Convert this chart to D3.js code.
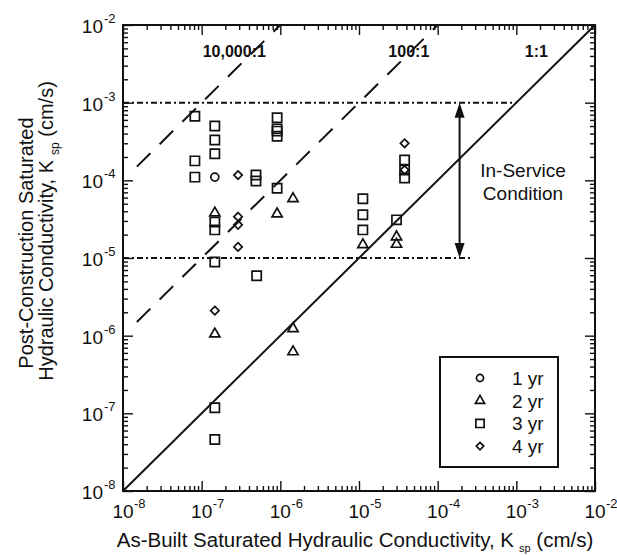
<!DOCTYPE html>
<html>
<head>
<meta charset="utf-8">
<script src="https://cdn.jsdelivr.net/npm/d3@7"></script>
<style>
body { margin:0; background:#fff; }
text { font-family:"Liberation Sans", Arial, Helvetica, sans-serif; fill:#111; }
</style>
</head>
<body>
<svg id="chart" width="617" height="556"></svg>
<script>
// Data (cm/s)
var yr1_x = [1.47e-7];
var yr1_y = [1.1e-4];

var yr2_x = [1.47e-7, 1.47e-7, 9.1e-7, 1.45e-6, 1.45e-6, 1.45e-6, 1.12e-5, 3.0e-5, 3.0e-5];
var yr2_y = [3.8e-5, 1.05e-6, 3.7e-5, 5.8e-5, 1.23e-6, 6.2e-7, 1.48e-5, 1.87e-5, 1.5e-5];

var yr3_x = [8.2e-8, 8.2e-8, 8.2e-8, 1.47e-7, 1.47e-7, 1.47e-7, 1.47e-7, 1.47e-7, 1.47e-7, 1.47e-7, 1.47e-7,
             4.9e-7, 4.9e-7, 5.0e-7, 9.1e-7, 9.1e-7, 9.1e-7, 9.1e-7, 9.1e-7,
             1.12e-5, 1.12e-5, 1.12e-5, 3.0e-5, 3.8e-5, 3.8e-5, 3.8e-5];
var yr3_y = [6.7e-4, 1.78e-4, 1.1e-4, 5.0e-4, 3.3e-4, 2.2e-4, 2.9e-5, 2.3e-5, 8.9e-6, 1.18e-7, 4.6e-8,
             1.17e-4, 9.8e-5, 5.9e-6, 6.4e-4, 4.6e-4, 4.3e-4, 3.7e-4, 7.9e-5,
             5.8e-5, 3.6e-5, 2.3e-5, 3.1e-5, 1.83e-4, 1.36e-4, 1.07e-4];

var yr4_x = [2.9e-7, 2.9e-7, 2.9e-7, 2.9e-7, 1.47e-7, 3.8e-5, 3.8e-5];
var yr4_y = [1.17e-4, 3.4e-5, 2.67e-5, 1.39e-5, 2.1e-6, 3.0e-4, 1.36e-4];

var series_names = ["1 yr", "2 yr", "3 yr", "4 yr"];
var decades = [-8, -7, -6, -5, -4, -3, -2];

// reference lines  K_post = ratio * K_built
var ratios = [10000, 100, 1];
var ratio_labels = ["10,000:1", "100:1", "1:1"];
var ratio_start = [1.5e-8, 1.5e-8, 1e-8];

// in-service band
var band_y = [1e-3, 1e-5];
var band_end = [1e-3, 2.8e-4];
var arrow_x = 1.9e-4;

var svg = d3.select("#chart");

var margin = { left:123, right:595, top:25, bottom:491 };

var x = d3.scaleLog().domain([1e-8, 1e-2]).range([margin.left, margin.right]);
var y = d3.scaleLog().domain([1e-8, 1e-2]).range([margin.bottom, margin.top]);

// minor tick values 2..9 in every decade
var minor = [];
decades.slice(0, -1).forEach(function(d) {
  for (var k = 2; k <= 9; k++) minor.push(k * Math.pow(10, d));
});
var major = decades.map(function(d) { return Math.pow(10, d); });

// Axes: ticks pointing inward on all four sides
var drawAxis = function(axisFn, scale, tx, ty, vals, size) {
  var g = svg.append("g")
             .attr("transform", "translate(" + tx + "," + ty + ")")
             .call(axisFn(scale).tickValues(vals).tickSize(size).tickFormat(""));
  g.select(".domain").remove();
  g.selectAll("line").attr("stroke", "#111").attr("stroke-width", 1.4);
};
drawAxis(d3.axisBottom, x, 0, margin.bottom, major, -10);
drawAxis(d3.axisBottom, x, 0, margin.bottom, minor, -5);
drawAxis(d3.axisTop, x, 0, margin.top, major, -10);
drawAxis(d3.axisTop, x, 0, margin.top, minor, -5);
drawAxis(d3.axisLeft, y, margin.left, 0, major, -10);
drawAxis(d3.axisLeft, y, margin.left, 0, minor, -5);
drawAxis(d3.axisRight, y, margin.right, 0, major, -10);
drawAxis(d3.axisRight, y, margin.right, 0, minor, -5);

// frame
svg.append("rect")
   .attr("x", margin.left).attr("y", margin.top)
   .attr("width", margin.right - margin.left)
   .attr("height", margin.bottom - margin.top)
   .attr("fill", "none").attr("stroke", "#111").attr("stroke-width", 2);

// tick labels
decades.forEach(function(d) {
  var px = x(Math.pow(10, d));
  svg.append("text").attr("x", px).attr("y", margin.bottom + 27)
     .attr("text-anchor", "middle").attr("font-size", 19).text("10");
  svg.append("text").attr("x", px + 11).attr("y", margin.bottom + 17)
     .attr("font-size", 13).text(d);
  var py = y(Math.pow(10, d));
  svg.append("text").attr("x", margin.left - 20).attr("y", py + 8)
     .attr("text-anchor", "end").attr("font-size", 19).text("10");
  svg.append("text").attr("x", margin.left - 19).attr("y", py - 2)
     .attr("font-size", 13).text(d);
});

// axis titles
var xlab = svg.append("text").attr("x", 355).attr("y", 547)
              .attr("text-anchor", "middle").attr("font-size", 20.5);
xlab.append("tspan").text("As-Built Saturated Hydraulic Conductivity, K");
xlab.append("tspan").attr("dx", 5).attr("dy", 5).attr("font-size", 11).text("sp");
xlab.append("tspan").attr("dy", -5).text(" (cm/s)");

svg.append("text").attr("transform", "translate(33,243) rotate(-90)")
   .attr("text-anchor", "middle").attr("font-size", 20)
   .text("Post-Construction Saturated");
var ylab = svg.append("text").attr("transform", "translate(53,231) rotate(-90)")
              .attr("text-anchor", "middle").attr("font-size", 20);
ylab.append("tspan").text("Hydraulic Conductivity, K");
ylab.append("tspan").attr("dx", 5).attr("dy", 6).attr("font-size", 12).text("sp");
ylab.append("tspan").attr("dy", -6).text(" (cm/s)");

// in-service band lines
svg.selectAll("bandline")
   .data(band_y)
   .enter()
   .append("line")
   .attr("x1", x(1e-8))
   .attr("x2", function(d, i) { return x(band_end[i]); })
   .attr("y1", function(d) { return y(d); })
   .attr("y2", function(d) { return y(d); })
   .attr("stroke", "#111").attr("stroke-width", 2)
   .attr("stroke-dasharray", "6,3,2,3");

// ratio lines
svg.selectAll("ratioline")
   .data(ratios)
   .enter()
   .append("line")
   .attr("x1", function(d, i) { return x(ratio_start[i]); })
   .attr("y1", function(d, i) { return y(ratio_start[i] * d); })
   .attr("x2", function(d) { return x(1e-2 / d); })
   .attr("y2", y(1e-2))
   .attr("stroke", "#111").attr("stroke-width", 2)
   .attr("stroke-dasharray", function(d) { return d == 1 ? null : "19,13"; });

var label_x = [2.6e-7, 4.3e-5, 1.8e-3];
svg.selectAll("ratiolabel")
   .data(ratio_labels)
   .enter()
   .append("text")
   .attr("x", function(d, i) { return x(label_x[i]); })
   .attr("y", 57)
   .attr("text-anchor", "middle")
   .attr("font-size", 16).attr("font-weight", "bold")
   .text(function(d) { return d; });

// double arrow
var ax = x(arrow_x), ytop = y(band_y[0]), ybot = y(band_y[1]);
svg.append("line").attr("x1", ax).attr("x2", ax)
   .attr("y1", ytop + 12).attr("y2", ybot - 12)
   .attr("stroke", "#111").attr("stroke-width", 2);
svg.append("path")
   .attr("d", "M" + ax + "," + ytop + "L" + (ax - 5) + "," + (ytop + 15) + "L" + (ax + 5) + "," + (ytop + 15) + "Z" +
              "M" + ax + "," + ybot + "L" + (ax - 5) + "," + (ybot - 15) + "L" + (ax + 5) + "," + (ybot - 15) + "Z")
   .attr("fill", "#111");
svg.append("text").attr("x", 523).attr("y", 177).attr("text-anchor", "middle")
   .attr("font-size", 19).text("In-Service");
svg.append("text").attr("x", 523).attr("y", 200).attr("text-anchor", "middle")
   .attr("font-size", 19).text("Condition");

// markers
var diamond = {
  draw: function(context, size) {
    var r = Math.sqrt(size) / 2;
    context.moveTo(0, -r);
    context.lineTo(r, 0);
    context.lineTo(0, r);
    context.lineTo(-r, 0);
    context.closePath();
  }
};
var sym_types = [d3.symbolCircle, d3.symbolTriangle, d3.symbolSquare, diamond];
var sym_sizes = [50, 45, 85, 70];
var series = [[yr1_x, yr1_y], [yr2_x, yr2_y], [yr3_x, yr3_y], [yr4_x, yr4_y]];

series.forEach(function(s, k) {
  svg.append("g").selectAll("path")
     .data(s[0])
     .enter()
     .append("path")
     .attr("transform", function(d, i) { return "translate(" + x(d) + "," + y(s[1][i]) + ")"; })
     .attr("d", d3.symbol().type(sym_types[k]).size(sym_sizes[k]))
     .attr("fill", "none").attr("stroke", "#111").attr("stroke-width", 1.7);
});

// legend
var leg = svg.append("g");
leg.append("rect").attr("x", 440).attr("y", 357).attr("width", 118).attr("height", 110)
   .attr("fill", "#fff").attr("stroke", "#111").attr("stroke-width", 2);
var rows = leg.selectAll("legrow")
              .data(series_names)
              .enter()
              .append("g")
              .attr("transform", function(d, i) { return "translate(0," + (378 + i * 22.7) + ")"; });
rows.append("path")
    .attr("transform", "translate(480,0)")
    .attr("d", function(d, i) { return d3.symbol().type(sym_types[i]).size(sym_sizes[i] * 0.8)(); })
    .attr("fill", "none").attr("stroke", "#111").attr("stroke-width", 1.7);
rows.append("text").attr("x", 512).attr("y", 7).attr("font-size", 19)
    .text(function(d) { return d; });
</script>
</body>
</html>
